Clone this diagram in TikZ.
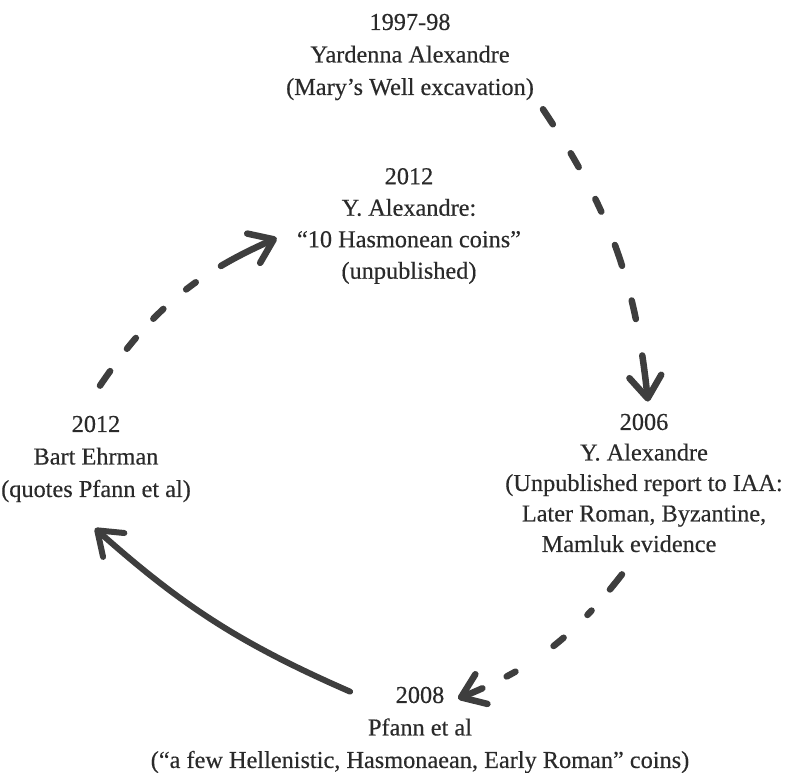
\documentclass[tikz,border=0pt]{standalone}
\usepackage{fontspec}
\setmainfont{Liberation Serif}[FakeBold=0.4]
\usetikzlibrary{arrows.meta}
\definecolor{ink}{HTML}{3E3E3E}
\definecolor{txt}{HTML}{2A2A2A}

\begin{document}
\begin{tikzpicture}[x=1pt,y=-1pt,
  lbl/.style={align=center,inner sep=0pt,text=txt,font=\fontsize{24.3}{32.5}\selectfont},
  stroke/.style={draw=ink,line width=6.5pt,line cap=round,line join=round},
  headback/.style={{Straight Barb[length=22pt,width=32pt,round]}-}]
  \useasboundingbox (0,0) rectangle (785,773);
  % the five finds
  \node[lbl] (well) at (410,57) {1997-98\\Yardenna Alexandre\\(Mary’s Well excavation)};
  \node[lbl,font=\fontsize{24.3}{31.5}\selectfont] (coins) at (409,226) {2012\\Y. Alexandre:\\“10 Hasmonean coins”\\(unpublished)};
  \node[lbl,font=\fontsize{24.3}{30.5}\selectfont] (iaa) at (644,483) {2006\\Y. Alexandre\\(Unpublished report to IAA:\\Later Roman, Byzantine,\\Mamluk evidence\hspace*{30pt}\null};
  \node[lbl] (pfann) at (420,730) {2008\\Pfann et al\\(“a few Hellenistic, Hasmonaean, Early Roman” coins)};
  \node[lbl] (ehrman) at (96,459) {2012\\Bart Ehrman\\(quotes Pfann et al)};
  % arrows, drawn from the head back
  \draw[stroke,headback,dash pattern=on 40pt off 37pt on 19pt off 36pt on 22pt off 36pt on 14pt off 36pt on 16pt off 34pt on 18pt off 60pt]
    ([shift={(4,-12)}]iaa.north) to[bend right=14] ([shift={(5,3)}]well.south east);
  \draw[stroke,headback,dash pattern=on 20pt off 27pt on 10pt off 46pt on 13pt off 33pt on 6pt off 28pt on 30pt off 60pt]
    ([shift={(38,12)}]pfann.north) to[bend right=15] ([shift={(-22,22)}]iaa.south);
  \draw[stroke,headback,line width=6pt] ([shift={(-1,26)}]ehrman.south) to[bend right=9] ([shift={(-70,5)}]pfann.north);
  \draw[stroke,headback,dash pattern=on 56pt off 30pt on 12pt off 30pt on 14pt off 26pt on 14pt off 28pt on 30pt off 60pt]
    ([shift={(-20,12)}]coins.west) to[bend right=16] ([shift={(4,-30)}]ehrman.north);
\end{tikzpicture}
\end{document}
